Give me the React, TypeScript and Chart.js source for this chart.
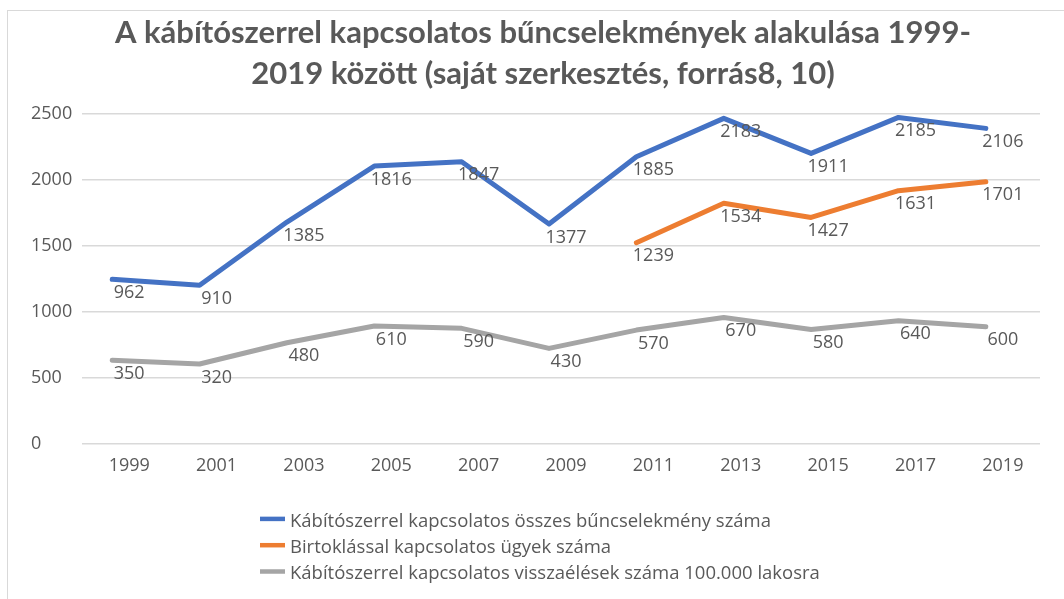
import { useEffect, useRef } from 'react';
import { Chart, registerables } from 'chart.js';

Chart.register(...registerables);

const years = ['1999', '2001', '2003', '2005', '2007', '2009', '2011', '2013', '2015', '2017', '2019'];

const seriesNames = [
  'Kábítószerrel kapcsolatos összes bűncselekmény száma',
  'Birtoklással kapcsolatos ügyek száma',
  'Kábítószerrel kapcsolatos visszaélések száma 100.000 lakosra',
];

// plotted positions (as drawn in the picture)
const totalValues = [1245, 1200, 1680, 2105, 2138, 1665, 2176, 2467, 2201, 2474, 2391];
const possessionValues = [null, null, null, null, null, null, 1523, 1822, 1715, 1918, 1986];
const per100kValues = [632, 603, 764, 891, 873, 721, 860, 956, 865, 931, 885];

// data labels as printed in the picture
const totalLabels = ['962', '910', '1385', '1816', '1847', '1377', '1885', '2183', '1911', '2185', '2106'];
const possessionLabels = [null, null, null, null, null, null, '1239', '1534', '1427', '1631', '1701'];
const per100kLabels = ['350', '320', '480', '610', '590', '430', '570', '670', '580', '640', '600'];

const yTicks = [0, 500, 1000, 1500, 2000, 2500];

const titleLines = [
  'A kábítószerrel kapcsolatos bűncselekmények alakulása 1999-',
  '2019 között (saját szerkesztés, forrás8, 10)',
];

const TEXT = '#595959';
const COLORS = ['#4472C4', '#ED7D31', '#A5A5A5'];
const FAMILY = '"Open Sans", "Noto Sans", sans-serif';

const toPoints = (arr: (number | null)[]) => arr.map((v, i) => ({ x: i, y: v }));

const framePlugin = {
  id: 'frame',
  beforeDraw(chart: any) {
    const ctx = chart.ctx;
    ctx.save();
    ctx.strokeStyle = '#d9d9d9';
    ctx.lineWidth = 1;
    ctx.strokeRect(7.5, 10.5, chart.width + 20, chart.height + 20);
    ctx.restore();
  },
};

const titlePlugin = {
  id: 'twoLineTitle',
  afterDraw(chart: any) {
    const ctx = chart.ctx;
    ctx.save();
    ctx.font = 'bold 31px Lato';
    ctx.fillStyle = TEXT;
    ctx.textAlign = 'center';
    ctx.textBaseline = 'alphabetic';
    const cx = chart.width / 2 + 11;
    titleLines.forEach((line, i) => {
      ctx.fillText(line, cx, 43 + i * 41);
    });
    ctx.restore();
  },
};

const valueLabelPlugin = {
  id: 'valueLabels',
  afterDatasetsDraw(chart: any) {
    const ctx = chart.ctx;
    ctx.save();
    ctx.font = '18px ' + FAMILY;
    ctx.fillStyle = TEXT;
    ctx.textAlign = 'center';
    ctx.textBaseline = 'middle';
    chart.data.datasets.forEach((ds: any, di: number) => {
      const meta = chart.getDatasetMeta(di);
      const labels = ds.valueLabels as (string | null)[];
      meta.data.forEach((pt: any, i: number) => {
        const t = labels[i];
        if (!t || pt.skip) return;
        ctx.fillText(t, pt.x + 17, pt.y + 13.5);
      });
    });
    ctx.restore();
  },
};

const legendPlugin = {
  id: 'stackedLegend',
  afterDraw(chart: any) {
    const ctx = chart.ctx;
    ctx.save();
    ctx.font = '18.5px ' + FAMILY;
    const widths = chart.data.datasets.map((ds: any) => ctx.measureText(ds.label).width);
    const blockW = 30 + Math.max(...widths);
    const x0 = Math.round((chart.width - blockW) / 2) + 8;
    const y0 = chart.chartArea.bottom + 78;
    chart.data.datasets.forEach((ds: any, i: number) => {
      const y = y0 + i * 26.3;
      ctx.strokeStyle = ds.borderColor;
      ctx.lineWidth = 4.5;
      ctx.lineCap = 'butt';
      ctx.beginPath();
      ctx.moveTo(x0, y - 2.5);
      ctx.lineTo(x0 + 25, y - 2.5);
      ctx.stroke();
      ctx.fillStyle = TEXT;
      ctx.textAlign = 'left';
      ctx.textBaseline = 'middle';
      ctx.fillText(ds.label, x0 + 30, y);
    });
    ctx.restore();
  },
};

export default function App() {
  const ref = useRef<HTMLCanvasElement | null>(null);

  useEffect(() => {
    document.body.style.margin = '0';
    const canvas = ref.current;
    if (!canvas) return;
    const tickFont = { family: FAMILY, size: 18 };
    const mk = (label: string, data: (number | null)[], labels: (string | null)[], color: string) => ({
      label,
      data: toPoints(data),
      valueLabels: labels,
      borderColor: color,
      backgroundColor: color,
      borderWidth: 5,
      borderCapStyle: 'round',
      borderJoinStyle: 'round',
      pointRadius: 0,
      pointHoverRadius: 0,
      fill: false,
      tension: 0,
      spanGaps: false,
    });
    const chart = new Chart(canvas, {
      type: 'line',
      data: {
        datasets: [
          mk(seriesNames[0], totalValues, totalLabels, COLORS[0]),
          mk(seriesNames[1], possessionValues, possessionLabels, COLORS[1]),
          mk(seriesNames[2], per100kValues, per100kLabels, COLORS[2]),
        ] as any,
      },
      options: {
        animation: false,
        responsive: false,
        layout: { padding: { left: 31, right: 24, top: 114, bottom: 110 } },
        plugins: {
          legend: { display: false },
          tooltip: { enabled: false },
          title: { display: false },
        },
        scales: {
          x: {
            type: 'linear',
            min: -0.344,
            max: 10.62,
            grid: { display: false, drawTicks: false },
            border: { display: false },
            afterBuildTicks: (axis: any) => {
              axis.ticks = years.map((_, i) => ({ value: i }));
            },
            ticks: {
              callback: (v: any) => years[v as number] ?? '',
              labelOffset: 17,
              padding: 12,
              autoSkip: false,
              maxRotation: 0,
              color: TEXT,
              font: tickFont,
            },
          },
          y: {
            min: 0,
            max: 2500,
            grid: { color: '#d9d9d9', lineWidth: 1.5, drawTicks: false },
            border: { display: false },
            afterBuildTicks: (axis: any) => {
              axis.ticks = yTicks.map((v) => ({ value: v }));
            },
            ticks: {
              callback: (v: any) => String(v),
              padding: 5,
              crossAlign: 'far',
              color: TEXT,
              font: tickFont,
            },
          },
        },
      } as any,
      plugins: [framePlugin, valueLabelPlugin, legendPlugin, titlePlugin],
    });
    return () => chart.destroy();
  }, []);

  return (
    <div style={{ width: 1064, height: 599 }}>
      <canvas ref={ref} width={1064} height={599} style={{ display: 'block' }} />
    </div>
  );
}
